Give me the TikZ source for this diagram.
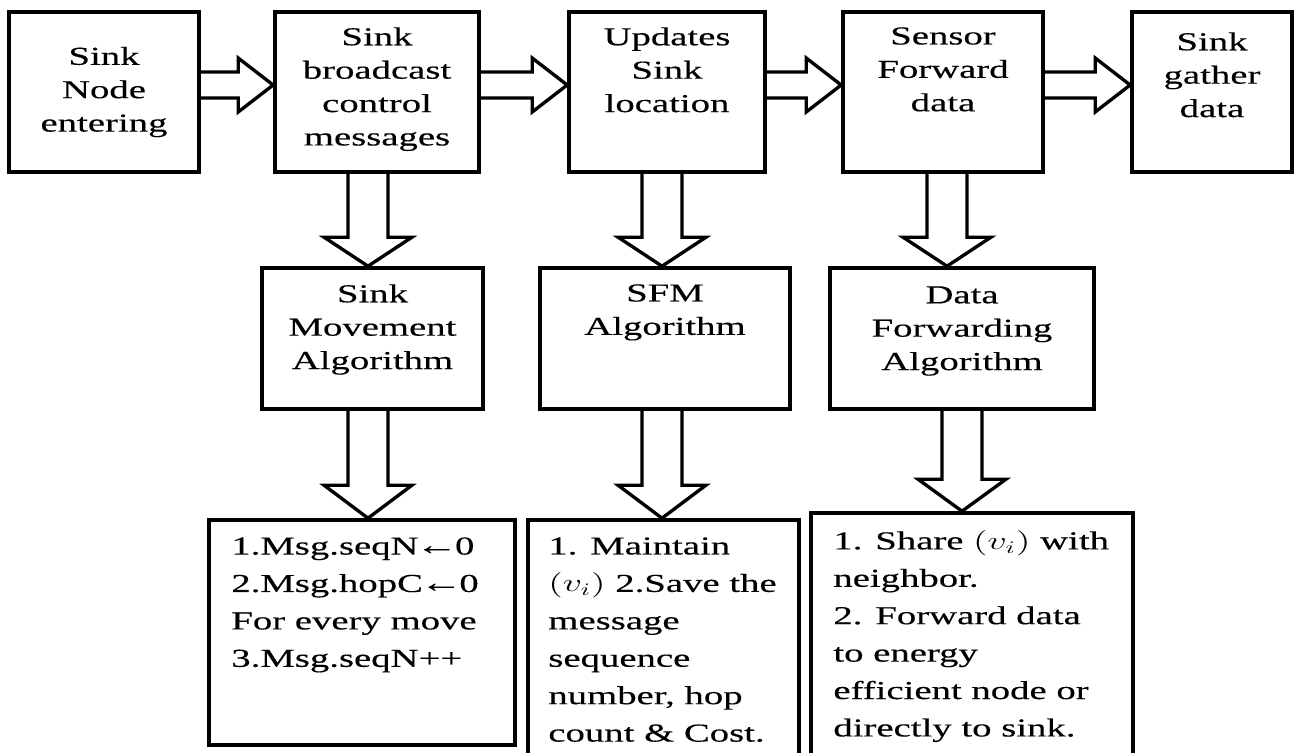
\documentclass[tikz,border=0pt]{standalone}
\usepackage{fontspec}
\setmainfont{Liberation Serif}[FakeStretch=1.5, FakeBold=0.3]
\usepackage{graphicx}
\usetikzlibrary{calc}
\newcommand{\pix}{0.02cm}
\tikzset{
    caja/.style={draw, line width=2.1pt, inner sep=0pt},
    texto/.style={font=\fontsize{14.7}{19}\selectfont, align=center, inner sep=0pt},
    detalle/.style={font=\fontsize{14.7}{21.3}\selectfont, align=left, inner sep=0pt, anchor=north west},
    flecha/.style={draw, line width=1.9pt},
}
% flecha hueca horizontal: caja #1 -> caja #2
\newcommand{\flechaH}[2]{%
  \draw[flecha] let \p1=($(#1.east)+(0,-7)$), \p2=(#2.west) in
    (\x1,\y1+13*\pix) -- (\x2-35*\pix,\y1+13*\pix) -- (\x2-35*\pix,\y1+27*\pix)
    -- (\x2,\y1) -- (\x2-35*\pix,\y1-27*\pix) -- (\x2-35*\pix,\y1-13*\pix) -- (\x1,\y1-13*\pix);}
% flecha hueca vertical: caja #1 -> caja #2, desplazamiento #3, punta #4
\newcommand{\flechaV}[4]{%
  \draw[flecha] let \p1=($(#1.south)+(#3,0)$), \p2=(#2.north) in
    (\x1-20*\pix,\y1) -- (\x1-20*\pix,\y2+#4*\pix) -- (\x1-44*\pix,\y2+#4*\pix)
    -- (\x1,\y2) -- (\x1+44*\pix,\y2+#4*\pix) -- (\x1+20*\pix,\y2+#4*\pix) -- (\x1+20*\pix,\y1);}
\newcommand{\vi}{\scalebox{1.5}[1]{$(v_i)$}}
\newcommand{\asig}{\kern-0.12em\scalebox{1.1}{←}\kern-0.12em}

\begin{document}
\begin{tikzpicture}[x=\pix, y=-\pix]
\useasboundingbox (0,0) rectangle (1294,752);
\clip (0,0) rectangle (1294,752);
\fill[white] (0,0) rectangle (1294,752);
% Fila 1
\node[caja, minimum width=3.8cm, minimum height=3.2cm] (entrada) at (104,92) {};
\node[caja, minimum width=4.08cm, minimum height=3.2cm] (difusion) at (377,92) {};
\node[caja, minimum width=3.92cm, minimum height=3.2cm] (actualiza) at (667,92) {};
\node[caja, minimum width=4cm, minimum height=3.2cm] (reenvio) at (943,92) {};
\node[caja, minimum width=3.2cm, minimum height=3.2cm] (recoge) at (1212,92) {};
\node[texto] (entradaT) at (104,92) {Sink\\Node\\entering};
\node[texto, anchor=north] (difusionT) at (377,27) {Sink\\broadcast\\control\\messages};
\node[texto, anchor=north] (actualizaT) at (667,27) {Updates\\Sink\\location};
\node[texto, anchor=north] (reenvioT) at (943,27) {Sensor\\Forward\\data};
\node[texto, anchor=north] (recogeT) at (1212,32) {Sink\\gather\\data};
\flechaH{entrada}{difusion}
\flechaH{difusion}{actualiza}
\flechaH{actualiza}{reenvio}
\flechaH{reenvio}{recoge}
% Fila 2: algoritmos
\node[caja, minimum width=4.42cm, minimum height=2.82cm] (alg1) at (372.5,338.5) {};
\node[caja, minimum width=5cm, minimum height=2.82cm] (alg2) at (665,338.5) {};
\node[caja, minimum width=5.28cm, minimum height=2.82cm] (alg3) at (962,338.5) {};
\node[texto, anchor=north] (alg1T) at (372.5,284) {Sink\\Movement\\Algorithm};
\node[texto, anchor=north] (alg2T) at (665,284) {SFM\\Algorithm};
\node[texto, anchor=north] (alg3T) at (962,286) {Data\\Forwarding\\Algorithm};
\flechaV{difusion}{alg1}{-9}{29}
\flechaV{actualiza}{alg2}{-5}{29}
\flechaV{reenvio}{alg3}{4}{29}
% Fila 3: detalles
\node[caja, minimum width=6.12cm, minimum height=4.5cm] (det1) at (362,632.5) {};
\node[caja, minimum width=5.42cm, minimum height=5.6cm] (det2) at (663.5,660) {};
\node[caja, minimum width=6.44cm, minimum height=5.74cm] (det3) at (972,656.5) {};
\node[detalle] (det1T) at (231,537) {1.Msg.seqN\asig0\\2.Msg.hopC\asig0\\For every move\\3.Msg.seqN++};
\node[detalle] (det2T) at (548,537) {1. Maintain\\\vi{} 2.Save the\\message\\sequence\\number, hop\\count \& Cost.};
\node[detalle] (det3T) at (833,530) {1. Share \vi{} with\\neighbor.\\2. Forward data\\to energy\\efficient node or\\directly to sink.};
\flechaV{alg1}{det1}{-4.5}{33}
\flechaV{alg2}{det2}{-3}{33}
\flechaV{alg3}{det3}{0}{32}
\end{tikzpicture}
\end{document}
